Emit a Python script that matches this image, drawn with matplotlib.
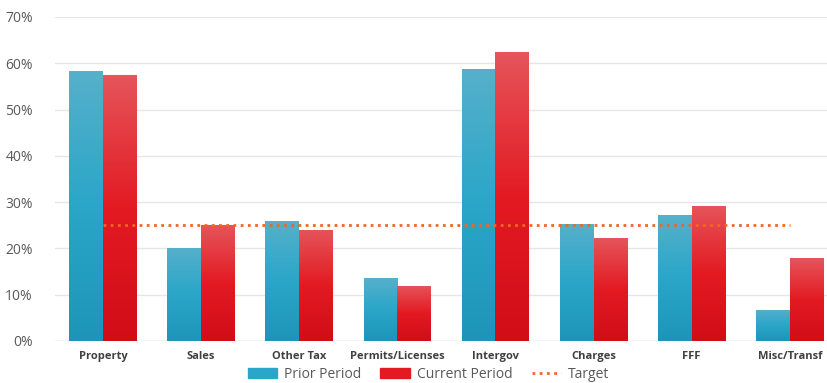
import numpy as np
import matplotlib
matplotlib.use("Agg")
import matplotlib.pyplot as plt
from matplotlib.colors import LinearSegmentedColormap
from matplotlib.patches import Patch
from matplotlib.lines import Line2D

plt.rcParams["font.family"] = ["Open Sans", "DejaVu Sans"]

categories = ["Property", "Sales", "Other Tax", "Permits/Licenses", "Intergov",
              "Charges", "FFF", "Misc/Transf"]
prior = [58.3, 20.1, 25.9, 13.6, 58.7, 25.3, 27.2, 6.7]
current = [57.4, 25.0, 24.0, 11.9, 62.4, 22.2, 29.2, 17.9]
target = 25.0

BLUE = ("#1e95b8", "#2aa6c8", "#56b0cb")
RED = ("#d10d18", "#e31a22", "#e5555a")

fig = plt.figure(figsize=(8.27, 3.83), dpi=100)
ax = fig.add_axes([0.0665, 0.1097, 0.9335, 0.846])

x = np.arange(len(categories))
w = 0.345
grad = np.linspace(0, 1, 256).reshape(-1, 1)


def grad_bars(xs, vals, cols):
    cmap = LinearSegmentedColormap.from_list("g", cols)
    bars = ax.bar(xs, vals, w, color=cols[1], zorder=2)
    for b in bars:
        x0, y0 = b.get_x(), b.get_y()
        im = ax.imshow(grad, cmap=cmap, origin="lower", aspect="auto", zorder=3,
                       extent=[x0, x0 + b.get_width(), y0, y0 + b.get_height()])
        im.set_clip_path(b)
    return bars


grad_bars(x - w / 2, prior, BLUE)
grad_bars(x + w / 2, current, RED)
ax.plot([x[0], x[-1]], [target, target], color="#f26522", lw=2,
        linestyle=(0, (1, 1.6)), zorder=4)

ax.set_xlim(-0.49, 7.38)
ax.set_ylim(0, 70)
ax.set_yticks(range(0, 71, 10))
ax.set_yticklabels([f"{v}%" for v in range(0, 71, 10)], fontsize=10, color="#595959")
ax.set_xticks(x)
ax.set_xticklabels(categories, fontsize=8, fontweight="bold", color="#404040")
ax.tick_params(length=0)
ax.tick_params(axis="y", pad=16)
ax.tick_params(axis="x", pad=7)
ax.grid(axis="y", color="#e6e6e6", lw=1, zorder=0)
ax.set_axisbelow(True)
for s in ax.spines.values():
    s.set_visible(False)
ax.axhline(0, color="#d9d9d9", lw=1, zorder=1)

handles = [Patch(color=BLUE[1]), Patch(color=RED[1]),
           Line2D([], [], color="#f26522", lw=2, linestyle=(0, (1, 1.6)))]
fig.legend(handles, ["Prior Period", "Current Period", "Target"], loc="center",
           bbox_to_anchor=(0.518, 0.022), ncol=3, frameon=False, fontsize=10,
           handlelength=2.1, handleheight=0.7, handletextpad=0.5,
           columnspacing=1.4, labelcolor="#595959", borderpad=0.1)

fig.savefig("out.png", dpi=100)
